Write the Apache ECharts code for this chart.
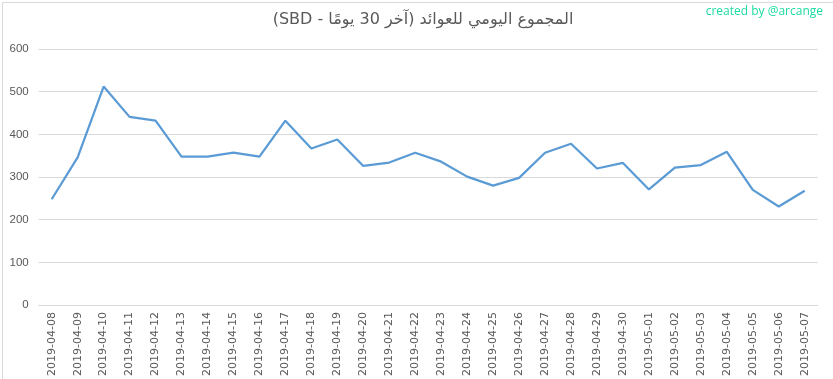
<!DOCTYPE html>
<html>
<head>
<meta charset="utf-8">
<script src="https://cdn.jsdelivr.net/npm/echarts@6/dist/echarts.min.js"></script>
<style>
html,body{margin:0;padding:0;background:#fff;}
#c{width:833px;height:379px;}
</style>
</head>
<body>
<div id="c"></div>
<script>
const categories = ["2019-04-08","2019-04-09","2019-04-10","2019-04-11","2019-04-12","2019-04-13","2019-04-14","2019-04-15","2019-04-16","2019-04-17","2019-04-18","2019-04-19","2019-04-20","2019-04-21","2019-04-22","2019-04-23","2019-04-24","2019-04-25","2019-04-26","2019-04-27","2019-04-28","2019-04-29","2019-04-30","2019-05-01","2019-05-02","2019-05-03","2019-05-04","2019-05-05","2019-05-06","2019-05-07"];
const values = [248,346,512,441,432,348,348,357,348,432,367,388,326,334,357,336,301,280,298,357,378,320,333,271,322,328,359,270,231,268];
const titleText = "\u202Bالمجموع اليومي للعوائد (آخر 30 يومًا - SBD)\u202C";
const watermark = "created by @arcange";

const chart = echarts.init(document.getElementById('c'), null, {renderer:'canvas'});
chart.setOption({
  animation:false,
  backgroundColor:'#fff',
  graphic:[{
    type:'rect',
    left:0, top:0,
    shape:{x:0.5,y:0.5,width:832,height:378},
    style:{fill:'none',stroke:'#d9d9d9',lineWidth:1},
    silent:true
  },{
    type:'text',
    x:423, y:20,
    style:{text:titleText,fill:'#595959',font:'16px "DejaVu Sans"',align:'center',verticalAlign:'middle'},
    silent:true
  },{
    type:'text',
    right:10,
    top:6,
    style:{text:watermark,fill:'#1ddba3',font:'12px "Open Sans"'}
  }],
  grid:{left:38.7,right:15.3,top:49,bottom:73.7,containLabel:false},
  xAxis:{
    type:'category',
    data:categories,
    boundaryGap:true,
    axisLine:{lineStyle:{color:'#d9d9d9'}},
    axisTick:{show:false},
    axisLabel:{rotate:90,color:'#595959',fontSize:11,margin:7,fontFamily:'DejaVu Sans',interval:0}
  },
  yAxis:{
    type:'value',
    min:0,max:600,interval:100,
    axisLine:{show:false},
    axisTick:{show:false},
    splitLine:{lineStyle:{color:'#d9d9d9'}},
    axisLabel:{color:'#595959',fontSize:11.5,margin:10,fontFamily:'Liberation Sans'}
  },
  series:[{
    type:'line',
    data:values,
    showSymbol:false,
    symbol:'none',
    lineStyle:{color:'#5b9bd5',width:2.25},
    itemStyle:{color:'#5b9bd5'}
  }]
});
</script>
</body>
</html>
